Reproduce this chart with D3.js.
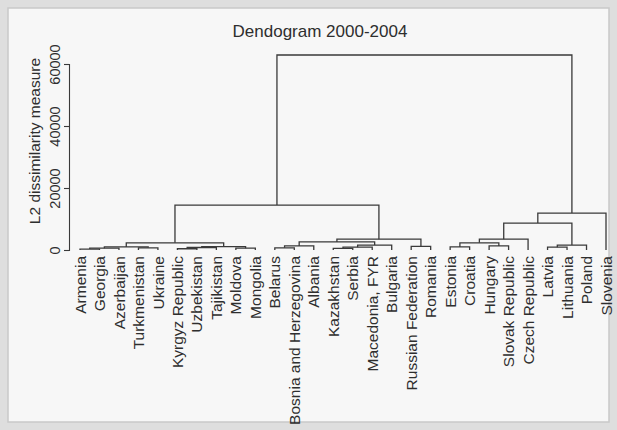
<!DOCTYPE html>
<html><head><meta charset="utf-8">
<script src="https://cdn.jsdelivr.net/npm/d3@7"></script>
<style>
html,body{margin:0;padding:0;background:#dedede;}
svg{display:block;}
text{font-family:"Liberation Sans",Arial,sans-serif;fill:#2e2e2e;}
</style></head><body>
<script>
// leaves in display order
const leaves = ["Armenia","Georgia","Azerbaijan","Turkmenistan","Ukraine","Kyrgyz Republic","Uzbekistan","Tajikistan","Moldova","Mongolia","Belarus","Bosnia and Herzegovina","Albania","Kazakhstan","Serbia","Macedonia, FYR","Bulgaria","Russian Federation","Romania","Estonia","Croatia","Hungary","Slovak Republic","Czech Republic","Latvia","Lithuania","Poland","Slovenia"];
// merges: [left node, right node, height]; node ids 0..27 are leaves, 28+ are merges in order
const mergeLeft  = [0,28,3,29,5,32,8,33,31,10,37,13,39,40,38,17,42,36,19,21,46,48,24,50,49,52,45];
const mergeRight = [1,2,4,30,6,7,9,34,35,11,12,14,15,16,41,18,43,44,20,22,47,23,25,26,51,27,53];
const mergeHeight = [300,600,700,1000,400,800,600,1100,2300,700,1300,500,900,1600,2600,1200,3500,14500,1000,1300,2300,3500,900,1600,8700,11900,62900];
const yTicks = [0,20000,40000,60000];
const title = "Dendogram 2000-2004";
const yTitle = "L2 dissimilarity measure";

const W=617,H=430;
const svg=d3.select("body").append("svg").attr("width",W).attr("height",H);
svg.append("rect").attr("x",8).attr("y",8).attr("width",601).attr("height",414)
  .attr("fill","#f7f7f7").attr("stroke","#c9c9c9").attr("stroke-width",1.5);

const x=d3.scalePoint().domain(leaves).range([80,606]);
const y=d3.scaleLinear().domain([0,60000]).range([250,64]);

// node positions
const nx=leaves.map(l=>x(l)), nh=leaves.map(()=>0);
const g=svg.append("g").attr("stroke","#3a3a3a").attr("stroke-width",1.3).attr("fill","none");
mergeHeight.forEach((h,i)=>{
  const a=mergeLeft[i], b=mergeRight[i];
  const xa=nx[a], xb=nx[b];
  g.append("path").attr("d",`M${xa},${y(nh[a])}V${y(h)}H${xb}V${y(nh[b])}`);
  nx.push((xa+xb)/2); nh.push(h);
});

// y axis
const ax=svg.append("g").attr("transform","translate(69,0)")
  .call(d3.axisLeft(y).tickValues(yTicks).tickSize(5).tickFormat(d3.format("d")));
ax.select(".domain").attr("stroke","#3a3a3a").attr("stroke-width",1.1);
ax.selectAll(".tick line").attr("stroke","#3a3a3a").attr("stroke-width",1.1);
ax.selectAll(".tick text").attr("transform","rotate(-90)").attr("x",0).attr("y",-9)
  .attr("dy",0).attr("text-anchor","middle").style("font-size","14.5px").attr("fill","#2e2e2e")
  .style("font-family","'Liberation Sans',Arial,sans-serif");

svg.append("text").attr("transform","translate(40,141) rotate(-90)").attr("text-anchor","middle")
  .style("font-size","15.5px").text(yTitle);

// leaf labels
svg.append("g").selectAll("text").data(leaves).join("text")
  .attr("transform",d=>`translate(${x(d)},256) rotate(-90)`)
  .attr("text-anchor","end").attr("dy","0.36em").style("font-size","15.5px").text(d=>d);

svg.append("text").attr("x",320).attr("y",37).attr("text-anchor","middle")
  .style("font-size","17px").text(title);
</script></body></html>
